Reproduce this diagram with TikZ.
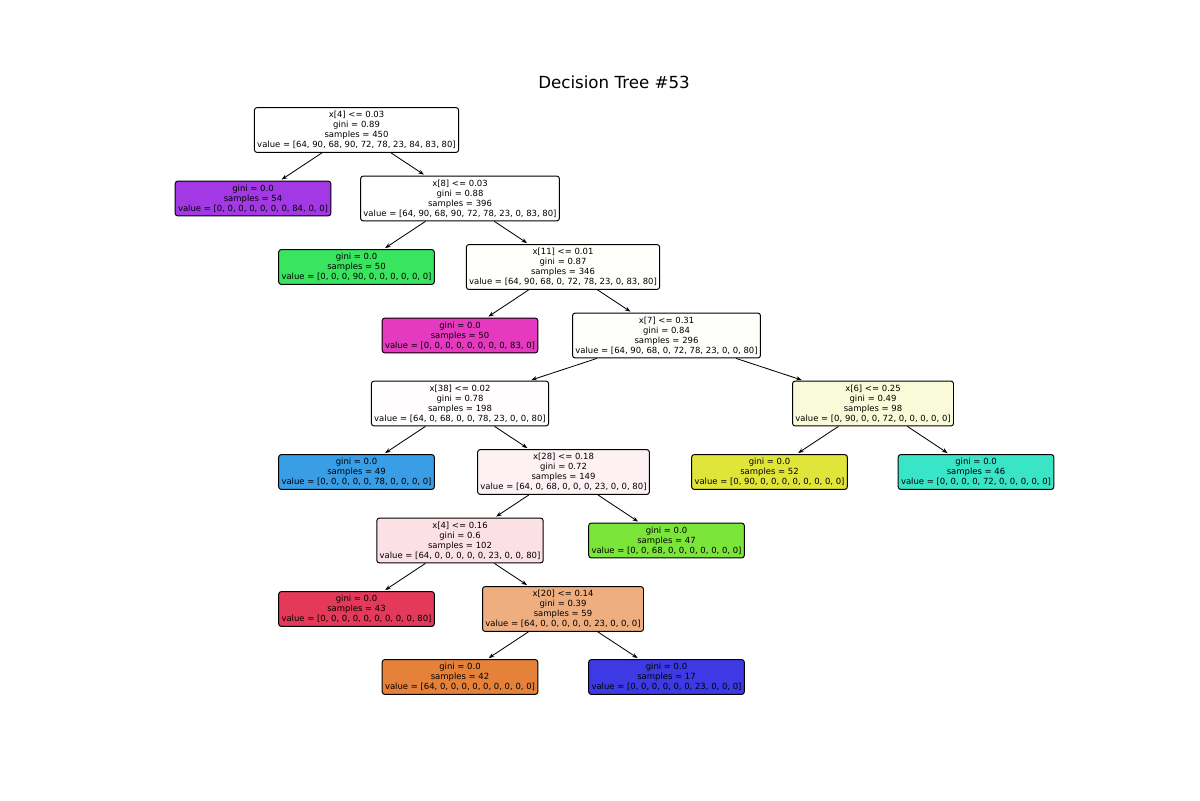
\documentclass[tikz,border=0pt]{standalone}
\usepackage{fontspec}
\setmainfont{DejaVu Sans}
\usetikzlibrary{arrows.meta}
\definecolor{cwhite}{RGB}{255,255,255}
\definecolor{cpurple}{RGB}{163,57,229}
\definecolor{cgreen}{RGB}{57,229,95}
\definecolor{cmagenta}{RGB}{229,57,192}
\definecolor{cblue}{RGB}{57,158,229}
\definecolor{cyellow}{RGB}{226,229,57}
\definecolor{cteal}{RGB}{57,229,198}
\definecolor{cgreentwo}{RGB}{123,229,57}
\definecolor{cred}{RGB}{229,57,89}
\definecolor{corange}{RGB}{229,129,57}
\definecolor{cindigo}{RGB}{60,57,229}
\definecolor{nxeleven}{RGB}{255,255,252}
\definecolor{nxseven}{RGB}{254,254,250}
\definecolor{nxthirtyeight}{RGB}{255,253,254}
\definecolor{nxsix}{RGB}{249,250,215}
\definecolor{nxtwentyeight}{RGB}{253,241,243}
\definecolor{nxfour}{RGB}{251,224,229}
\definecolor{nxtwenty}{RGB}{238,174,128}
\tikzset{
  tnode/.style={draw=black, line width=0.7pt, rounded corners=1.8pt, align=center,
    font=\fontsize{6.1pt}{7.2pt}\selectfont, inner xsep=2pt, inner ysep=2.6pt},
  edge/.style={-{Stealth[length=4pt,width=3pt]}, line width=0.6pt, shorten >=1.4pt}
}
\begin{document}
\begin{tikzpicture}[x=0.72pt,y=-0.72pt]
\useasboundingbox (0,0) rectangle (1200,800);
\node (title) at (614,82) {\fontsize{12pt}{14pt}\selectfont Decision Tree \#53};
\node[tnode, fill=cwhite] (n0) at (356.5,130) {x[4] <= 0.03\\gini = 0.89\\samples = 450\\value = [64, 90, 68, 90, 72, 78, 23, 84, 83, 80]};
\node[tnode, fill=cpurple] (n1) at (253,198.5) {gini = 0.0\\samples = 54\\value = [0, 0, 0, 0, 0, 0, 0, 84, 0, 0]};
\node[tnode, fill=cwhite] (n2) at (460,198.5) {x[8] <= 0.03\\gini = 0.88\\samples = 396\\value = [64, 90, 68, 90, 72, 78, 23, 0, 83, 80]};
\node[tnode, fill=cgreen] (n3) at (356.5,267) {gini = 0.0\\samples = 50\\value = [0, 0, 0, 90, 0, 0, 0, 0, 0, 0]};
\node[tnode, fill=nxeleven] (n4) at (563,267) {x[11] <= 0.01\\gini = 0.87\\samples = 346\\value = [64, 90, 68, 0, 72, 78, 23, 0, 83, 80]};
\node[tnode, fill=cmagenta] (n5) at (460,335.5) {gini = 0.0\\samples = 50\\value = [0, 0, 0, 0, 0, 0, 0, 0, 83, 0]};
\node[tnode, fill=nxseven] (n6) at (666.5,335.5) {x[7] <= 0.31\\gini = 0.84\\samples = 296\\value = [64, 90, 68, 0, 72, 78, 23, 0, 0, 80]};
\node[tnode, fill=nxthirtyeight] (n7) at (460,403.5) {x[38] <= 0.02\\gini = 0.78\\samples = 198\\value = [64, 0, 68, 0, 0, 78, 23, 0, 0, 80]};
\node[tnode, fill=nxsix] (n8) at (873,403.5) {x[6] <= 0.25\\gini = 0.49\\samples = 98\\value = [0, 90, 0, 0, 72, 0, 0, 0, 0, 0]};
\node[tnode, fill=cblue] (n9) at (356.5,472) {gini = 0.0\\samples = 49\\value = [0, 0, 0, 0, 0, 78, 0, 0, 0, 0]};
\node[tnode, fill=nxtwentyeight] (n10) at (563.5,472) {x[28] <= 0.18\\gini = 0.72\\samples = 149\\value = [64, 0, 68, 0, 0, 0, 23, 0, 0, 80]};
\node[tnode, fill=cyellow] (n11) at (769.5,472) {gini = 0.0\\samples = 52\\value = [0, 90, 0, 0, 0, 0, 0, 0, 0, 0]};
\node[tnode, fill=cteal] (n12) at (976,472) {gini = 0.0\\samples = 46\\value = [0, 0, 0, 0, 72, 0, 0, 0, 0, 0]};
\node[tnode, fill=nxfour] (n13) at (460,540.5) {x[4] <= 0.16\\gini = 0.6\\samples = 102\\value = [64, 0, 0, 0, 0, 0, 23, 0, 0, 80]};
\node[tnode, fill=cgreentwo] (n14) at (666.5,540.5) {gini = 0.0\\samples = 47\\value = [0, 0, 68, 0, 0, 0, 0, 0, 0, 0]};
\node[tnode, fill=cred] (n15) at (356.5,609) {gini = 0.0\\samples = 43\\value = [0, 0, 0, 0, 0, 0, 0, 0, 0, 80]};
\node[tnode, fill=nxtwenty] (n16) at (563,609) {x[20] <= 0.14\\gini = 0.39\\samples = 59\\value = [64, 0, 0, 0, 0, 0, 23, 0, 0, 0]};
\node[tnode, fill=corange] (n17) at (460,677) {gini = 0.0\\samples = 42\\value = [64, 0, 0, 0, 0, 0, 0, 0, 0, 0]};
\node[tnode, fill=cindigo] (n18) at (666.5,677) {gini = 0.0\\samples = 17\\value = [0, 0, 0, 0, 0, 0, 23, 0, 0, 0]};
\draw[edge] (n0) -- (n1);
\draw[edge] (n0) -- (n2);
\draw[edge] (n2) -- (n3);
\draw[edge] (n2) -- (n4);
\draw[edge] (n4) -- (n5);
\draw[edge] (n4) -- (n6);
\draw[edge] (n6) -- (n7);
\draw[edge] (n6) -- (n8);
\draw[edge] (n7) -- (n9);
\draw[edge] (n7) -- (n10);
\draw[edge] (n8) -- (n11);
\draw[edge] (n8) -- (n12);
\draw[edge] (n10) -- (n13);
\draw[edge] (n10) -- (n14);
\draw[edge] (n13) -- (n15);
\draw[edge] (n13) -- (n16);
\draw[edge] (n16) -- (n17);
\draw[edge] (n16) -- (n18);
\end{tikzpicture}
\end{document}
